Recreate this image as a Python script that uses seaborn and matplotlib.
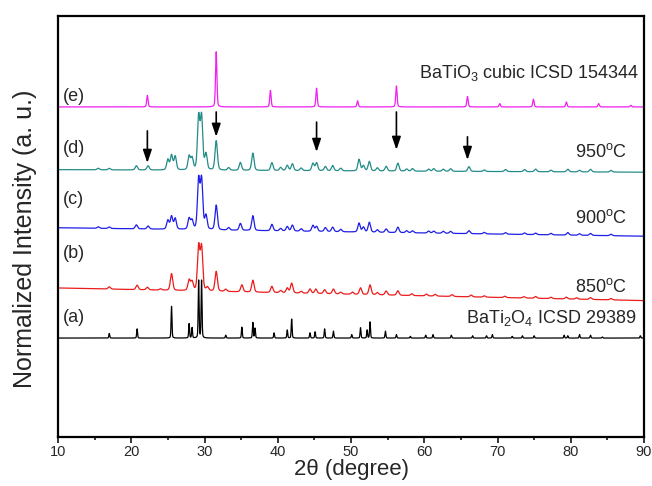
import numpy as np
import pandas as pd
import matplotlib
matplotlib.use("Agg")
import matplotlib.pyplot as plt
import seaborn as sns

# ---- diffraction data (peak positions in 2theta, relative intensities) ----
# (e) BaTiO3 cubic, ICSD 154344
e_pos = [22.2, 31.6, 39.0, 45.3, 50.9, 56.2, 65.9, 70.3, 74.9, 79.4, 83.8, 88.2]
e_int = [21, 100, 30, 34, 11, 38, 19, 6, 14, 9, 6, 3]

# (d) 950 C
d_pos = [15.5, 17.0, 20.7, 22.3, 25.0, 25.5, 26.0, 27.9, 28.3, 29.2, 29.6, 30.2,
         31.6, 33.3, 34.9, 36.6, 39.2, 40.4, 41.3, 42.0, 43.2, 44.8, 45.3, 46.5,
         47.5, 48.6, 51.1, 51.7, 52.5, 53.6, 54.8, 56.4, 57.6, 58.4, 60.6, 61.3,
         62.6, 63.6, 66.1, 68.2, 71.1, 73.7, 75.2, 77.3, 79.6, 81.2, 82.7, 85.5]
d_int = [3, 3, 8, 8, 20, 28, 26, 26, 22, 100, 100, 30,
         56, 5, 15, 33, 15, 6, 10, 13, 5, 14, 15, 8,
         10, 5, 22, 10, 18, 6, 9, 15, 4, 5, 4, 5,
         4, 5, 9, 3, 4, 4, 5, 3, 5, 3, 5, 3]

# (c) 900 C
c_pos = d_pos
c_int = [3, 3, 8, 6, 18, 26, 22, 22, 18, 100, 100, 28,
         50, 5, 14, 30, 13, 5, 9, 12, 5, 12, 10, 8,
         9, 5, 18, 10, 20, 5, 7, 11, 4, 4, 4, 4,
         4, 4, 6, 3, 3, 3, 3, 3, 5, 3, 4, 3]

# (b) 850 C
b_pos = [17.0, 20.8, 22.2, 24.0, 25.5, 27.9, 28.3, 29.2, 29.6, 30.4, 31.6, 32.9,
         35.1, 36.6, 39.2, 40.4, 41.3, 41.9, 43.2, 44.4, 45.2, 46.4, 47.6, 48.6,
         50.2, 51.3, 52.6, 53.6, 54.8, 56.4, 58.3, 60.3, 61.5, 63.8, 66.4, 68.2,
         71.0, 73.6, 75.2, 77.3, 79.4, 80.8, 82.7, 85.5]
b_int = [5, 10, 6, 3, 38, 24, 20, 100, 98, 8, 45, 5,
         16, 27, 14, 5, 11, 22, 4, 10, 10, 9, 11, 4,
         5, 15, 22, 5, 9, 10, 4, 4, 4, 4, 4, 3,
         3, 3, 4, 3, 4, 3, 4, 3]

# (a) BaTi2O4, ICSD 29389
a_pos = [17.0, 20.8, 25.5, 27.9, 28.3, 29.2, 29.6, 32.9, 35.1, 36.6, 36.9, 39.5,
         41.3, 41.9, 44.4, 45.1, 46.4, 47.6, 50.1, 51.3, 52.2, 52.6, 54.7, 56.2,
         58.1, 60.2, 61.2, 63.7, 66.6, 68.5, 69.3, 72.0, 73.4, 75.0, 79.1, 79.6,
         81.2, 82.7, 84.3, 89.5]
a_int = [8, 16, 55, 25, 18, 100, 100, 5, 19, 27, 17, 9,
         14, 33, 9, 11, 16, 12, 6, 18, 14, 28, 12, 6,
         3, 5, 6, 5, 4, 4, 6, 3, 4, 4, 5, 4,
         6, 5, 2, 4]

labels = ["(e)", "(d)", "(c)", "(b)", "(a)"]
side_text = ["BaTiO$_3$ cubic ICSD 154344", "950$^{\\mathrm{o}}$C", "900$^{\\mathrm{o}}$C",
             "850$^{\\mathrm{o}}$C", "BaTi$_2$O$_4$ ICSD 29389"]
colors = ["#F020F0", "#238C88", "#1E1EE6", "#EC1C1C", "#000000"]
peak_fwhm = [0.22, 0.38, 0.38, 0.38, 0.14]
# baseline level at 90 deg, extra rise toward 10 deg, peak height (axis units 0-100)
base_level = [78.4, 62.9, 47.7, 32.4, 23.5]
base_tilt = [0.0, 0.6, 2.0, 3.0, 0.0]
peak_scale = [13.1, 13.8, 13.0, 11.5, 13.8]
label_y = [80.8, 68.6, 56.3, 43.5, 28.3]
side_y = [86.5, 67.7, 52.0, 35.6, 28.3]
side_x = [89.4, 87.7, 87.7, 87.7, 89.0]

# arrows marking BaTiO3 reflections in the 950 C pattern
arrow_x = [22.2, 31.6, 45.3, 56.2, 65.9]
arrow_top = [72.7, 77.2, 74.8, 77.2, 71.3]
arrow_bot = [65.1, 71.3, 67.7, 68.2, 65.8]

positions = [e_pos, d_pos, c_pos, b_pos, a_pos]
intensities = [e_int, d_int, c_int, b_int, a_int]

two_theta = np.linspace(10, 90, 8001)


def pattern(pos, inten, fwhm):
    y = np.zeros_like(two_theta)
    hw = fwhm / 2
    for p, h in zip(pos, inten):
        lor = 1.0 / (1.0 + ((two_theta - p) / hw) ** 2)
        gau = np.exp(-np.log(2) * ((two_theta - p) / hw) ** 2)
        y += h * (0.3 * lor + 0.7 * gau)
    return y / y.max()


frames = []
for i, lab in enumerate(labels):
    prof = pattern(positions[i], intensities[i], peak_fwhm[i])
    bg = base_level[i] + base_tilt[i] * (90 - two_theta) / 80
    frames.append(pd.DataFrame({"two_theta": two_theta,
                                "intensity": bg + peak_scale[i] * prof,
                                "sample": lab}))
data = pd.concat(frames, ignore_index=True)

sns.set_theme(style="ticks")
plt.rcParams["font.family"] = ["Liberation Sans", "DejaVu Sans"]
plt.rcParams["mathtext.fontset"] = "custom"
plt.rcParams["mathtext.rm"] = "Liberation Sans"
plt.rcParams["mathtext.it"] = "Liberation Sans:italic"

fig = plt.figure(figsize=(6.52, 4.86), dpi=100)
ax = fig.add_axes([58 / 652, 1 - 437 / 486, 586 / 652, 421 / 486])

sns.lineplot(data=data, x="two_theta", y="intensity", hue="sample",
             palette=dict(zip(labels, colors)), linewidth=0.9,
             legend=False, ax=ax, estimator=None, sort=False)

for i, lab in enumerate(labels):
    ax.text(10.7, label_y[i], lab, fontsize=13, ha="left", va="center")
    ax.text(side_x[i], side_y[i], side_text[i], fontsize=13, ha="right", va="center")

for x, t, b in zip(arrow_x, arrow_top, arrow_bot):
    ax.annotate("", xy=(x, b), xytext=(x, t),
                arrowprops=dict(arrowstyle="-|>,head_length=0.65,head_width=0.22",
                                color="black", lw=1.2, shrinkA=0, shrinkB=0))

ax.set_xlim(10, 90)
ax.set_ylim(0, 100)
ax.set_xticks(np.arange(10, 91, 10))
ax.set_xticks(np.arange(15, 90, 10), minor=True)
ax.set_yticks([])
ax.tick_params(axis="x", which="major", direction="out", length=4, width=1.3,
               labelsize=10.5, pad=1.5)
ax.tick_params(axis="x", which="minor", direction="out", length=2.5, width=1.3)
for s in ax.spines.values():
    s.set_linewidth(1.6)
    s.set_color("black")

ax.set_xlabel("2\u03b8 (degree)", fontsize=16, labelpad=0)
ax.set_ylabel("Normalized Intensity (a. u.)", fontsize=18)
ax.yaxis.set_label_coords(-0.035, 0.47)

fig.savefig("out.png", dpi=100)
